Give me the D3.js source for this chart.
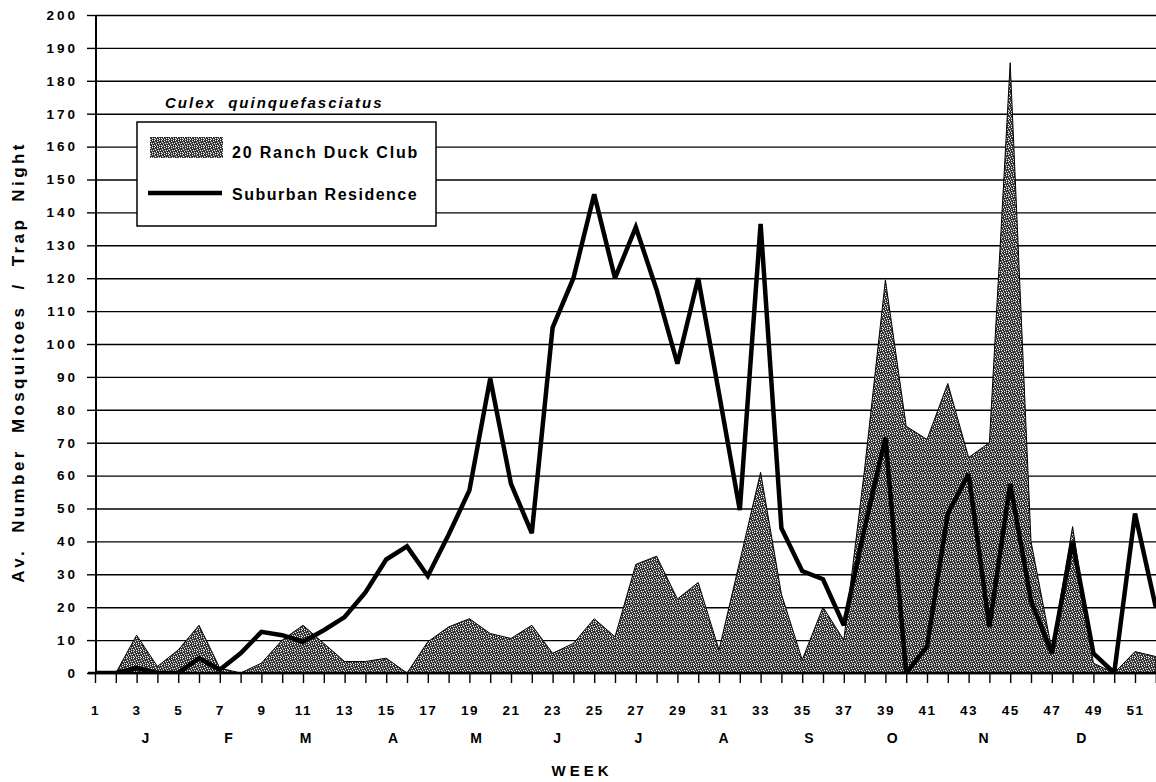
<!DOCTYPE html>
<html>
<head>
<meta charset="utf-8">
<script src="https://cdn.jsdelivr.net/npm/d3@7"></script>
<style>
  body { margin: 0; background: #fff; }
  svg { display: block; }
  text { font-family: "Liberation Sans", Arial, sans-serif; font-weight: bold; fill: #000; }
</style>
</head>
<body>
<div id="chart"></div>
<script>
// week numbers along the x axis
const weeks = [1,2,3,4,5,6,7,8,9,10,11,12,13,14,15,16,17,18,19,20,21,22,23,24,25,26,
               27,28,29,30,31,32,33,34,35,36,37,38,39,40,41,42,43,44,45,46,47,48,49,50,51,52];

// 20 Ranch Duck Club (shaded area)
const duckClub = [0,0,11.5,2,7,14.5,1.5,0,3,10,14.5,9,3.5,3.5,4.5,0,9.5,14,16.5,12,10.5,14.5,6,9,16.5,11,
                  33,35.5,22.5,27.5,7,34,61,24,4,20,10,62,119.5,75,71,88,65.5,70,185.5,40,7,44.5,3,0,6.5,5];

// Suburban Residence (line)
const suburban = [0,0,1.5,0,0,4.5,1,6,12.5,11.5,9.5,13,17,24.5,34.5,38.5,29.5,42,55.5,89.5,57.5,42.5,105,120,145.5,120,
                  135.5,116.5,94,120,85,49.5,136.5,44,31,28.5,14.5,44,71.5,0,8,48.5,60.5,14,57.5,22,6,40,6,0,48.5,20];

const yTicks = [0,10,20,30,40,50,60,70,80,90,100,110,120,130,140,150,160,170,180,190,200];
const monthNames = ["J","F","M","A","M","J","J","A","S","O","N","D"];
const monthPos = [3.4, 7.4, 11.1, 15.3, 19.3, 23.2, 27.1, 31.2, 35.3, 39.3, 43.7, 48.4];

const width = 1156, height = 782;
const margin = { top: 15, left: 96, bottom: 109 };

const svg = d3.select("#chart").append("svg")
    .attr("width", width)
    .attr("height", height);

const x = d3.scaleLinear().domain([1, 52]).range([95, 1155.8]);
const y = d3.scaleLinear().domain([0, 200]).range([height - margin.bottom, margin.top]);

// stipple texture for the duck club area (irregular 7x7 tile)
const defs = svg.append("defs");
const pat = defs.append("pattern")
    .attr("id", "stipple")
    .attr("patternUnits", "userSpaceOnUse")
    .attr("width", 7).attr("height", 7);
pat.append("rect").attr("width", 7).attr("height", 7).attr("fill", "#555");
const whiteDots = [[0,0],[3,1],[5,0],[1,2],[6,3],[2,4],[4,3],[0,5],[5,5],[3,6],[1,6]];
const blackDots = [[1,0],[4,0],[2,1],[6,1],[0,3],[3,2],[5,2],[1,4],[4,5],[6,6],[2,6],[3,4],[6,4]];
whiteDots.forEach(p => pat.append("rect").attr("x", p[0]).attr("y", p[1])
    .attr("width", 1).attr("height", 1).attr("fill", "#eee"));
blackDots.forEach(p => pat.append("rect").attr("x", p[0]).attr("y", p[1])
    .attr("width", 1).attr("height", 1).attr("fill", "#151515"));

defs.append("clipPath").attr("id", "plot")
  .append("rect")
    .attr("x", margin.left).attr("y", 0)
    .attr("width", width - margin.left).attr("height", y(0));

// horizontal grid
svg.append("g")
    .attr("transform", `translate(${margin.left},0)`)
    .call(d3.axisLeft(y).tickValues(yTicks).tickSize(-(width - margin.left)).tickFormat(""))
    .call(g => g.select(".domain").remove())
    .call(g => g.selectAll("line").attr("stroke", "#000").attr("stroke-width", 1.4));

const data = weeks.map((w, i) => ({ week: w, duck: duckClub[i], sub: suburban[i] }));

const plot = svg.append("g").attr("clip-path", "url(#plot)");

plot.append("path")
    .datum(data)
    .attr("fill", "url(#stipple)")
    .attr("stroke", "#000")
    .attr("stroke-width", 1)
    .attr("d", d3.area().x(d => x(d.week)).y0(y(0)).y1(d => y(d.duck)));

plot.append("path")
    .datum(data)
    .attr("fill", "none")
    .attr("stroke", "#000")
    .attr("stroke-width", 4.5)
    .attr("stroke-linejoin", "miter")
    .attr("stroke-miterlimit", 3)
    .attr("d", d3.line().x(d => x(d.week)).y(d => y(d.sub)));

// y axis
svg.append("g")
    .attr("transform", `translate(${margin.left},0)`)
    .call(d3.axisLeft(y).tickValues(yTicks).tickSize(9).tickPadding(9))
    .call(g => g.select(".domain").attr("stroke-width", 2).attr("d", `M0,${y(200)}V${y(0)}`))
    .call(g => g.selectAll("line").attr("stroke-width", 1.4))
    .call(g => g.selectAll("text")
        .attr("font-size", "13.5px")
        .attr("letter-spacing", "3px")
        .attr("font-family", "Liberation Sans, Arial, sans-serif")
        .attr("font-weight", "bold"));

// x axis (weeks)
svg.append("g")
    .attr("transform", `translate(0,${y(0)})`)
    .call(d3.axisBottom(x).tickValues(weeks).tickSize(10).tickPadding(22)
        .tickFormat(d => d % 2 ? d : ""))
    .call(g => g.select(".domain").attr("stroke-width", 2.5).attr("d", `M${margin.left - 8},0H${width}`))
    .call(g => g.selectAll("line").attr("stroke-width", 1.4))
    .call(g => g.selectAll("text")
        .attr("font-size", "13.5px")
        .attr("letter-spacing", "1.5px")
        .attr("font-family", "Liberation Sans, Arial, sans-serif")
        .attr("font-weight", "bold"));

// month letters
svg.append("g")
    .attr("transform", `translate(0,${y(0) + 57})`)
    .call(d3.axisBottom(x).tickValues(monthPos).tickSize(0).tickFormat((d, i) => monthNames[i]))
    .call(g => g.select(".domain").remove())
    .call(g => g.selectAll("text")
        .attr("font-size", "14px")
        .attr("font-family", "Liberation Sans, Arial, sans-serif")
        .attr("font-weight", "bold"));

svg.append("text")
    .attr("x", 582).attr("y", 776)
    .attr("text-anchor", "middle")
    .attr("font-size", "15px")
    .attr("letter-spacing", "4px")
    .text("WEEK");

svg.append("text")
    .attr("transform", "translate(24,362) rotate(-90)")
    .attr("text-anchor", "middle")
    .attr("font-size", "17px")
    .attr("letter-spacing", "3.4px")
    .attr("word-spacing", "7px")
    .text("Av. Number Mosquitoes / Trap Night");

// legend
svg.append("text")
    .attr("x", 165).attr("y", 108)
    .attr("font-size", "15px")
    .attr("font-style", "italic")
    .attr("letter-spacing", "2px")
    .text("Culex\u00a0\u00a0quinquefasciatus");

const legend = svg.append("g");
legend.append("rect")
    .attr("x", 137).attr("y", 122)
    .attr("width", 299).attr("height", 104)
    .attr("fill", "#fff").attr("stroke", "#000").attr("stroke-width", 1.5);
legend.append("rect")
    .attr("x", 150).attr("y", 137)
    .attr("width", 73).attr("height", 21)
    .attr("fill", "url(#stipple)");
legend.append("text")
    .attr("x", 232).attr("y", 158)
    .attr("font-size", "16px")
    .attr("letter-spacing", "1.8px")
    .text("20 Ranch Duck Club");
legend.append("line")
    .attr("x1", 148).attr("x2", 222).attr("y1", 193).attr("y2", 193)
    .attr("stroke", "#000").attr("stroke-width", 4.5);
legend.append("text")
    .attr("x", 232).attr("y", 200)
    .attr("font-size", "16px")
    .attr("letter-spacing", "1.5px")
    .text("Suburban Residence");
</script>
</body>
</html>
